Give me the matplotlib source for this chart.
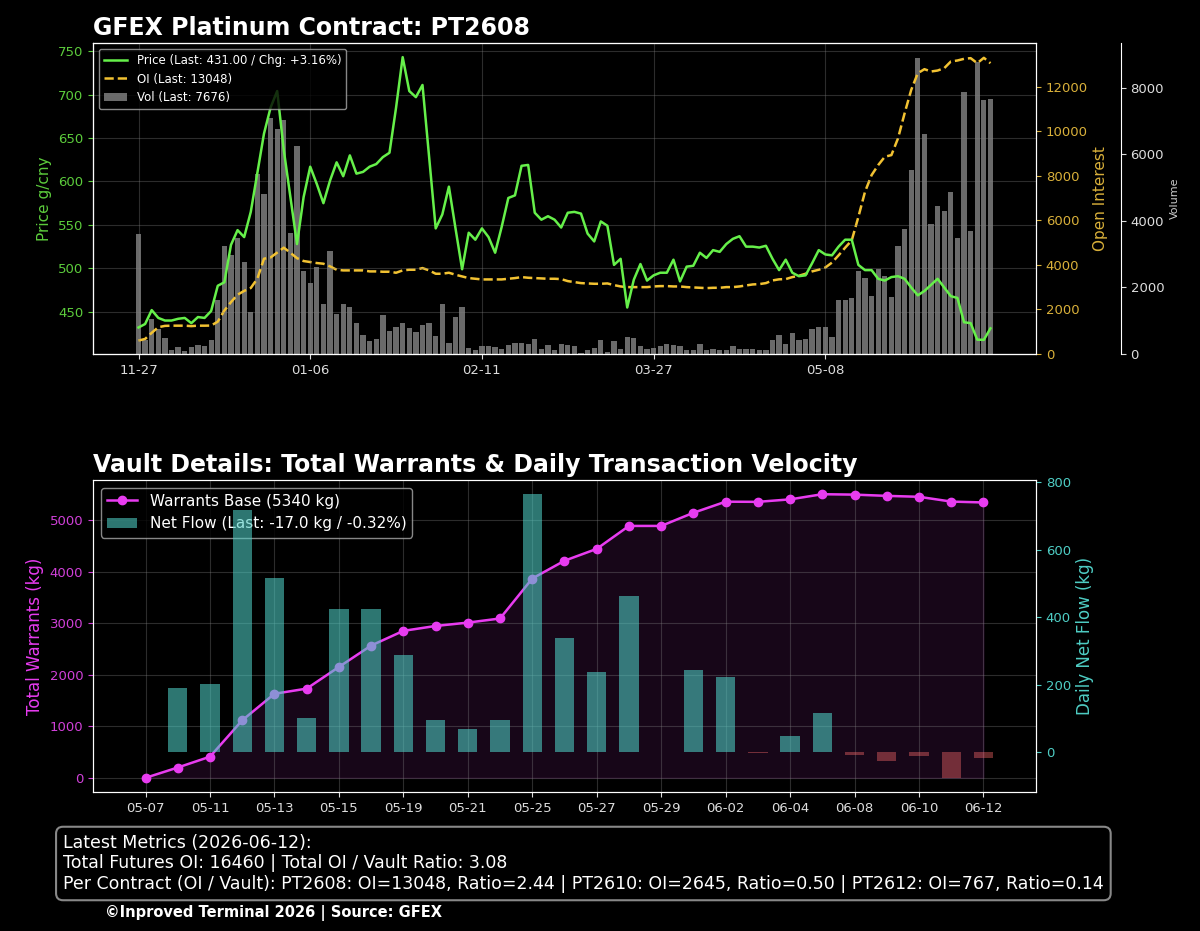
import numpy as np
import pandas as pd
import matplotlib
matplotlib.use("Agg")
import matplotlib.pyplot as plt
from matplotlib.colors import to_rgba
from matplotlib.patches import Patch

plt.style.use('dark_background')

# --- PT2608 daily series (trading days 2025-11-27 .. 2026-06-12) ---
holidays = ['2026-01-01', '2026-01-02', '2026-02-16', '2026-02-17', '2026-02-18',
            '2026-02-19', '2026-02-20', '2026-02-23', '2026-04-06', '2026-05-01',
            '2026-05-04', '2026-05-05']
trade_dates = pd.bdate_range('2025-11-27', '2026-06-12', freq='C', holidays=holidays)

price = [432, 436, 452, 443, 440, 440, 442, 443, 437, 444,
         443, 451, 480, 484, 527, 544, 536, 565, 610, 655,
         685, 704, 636, 582, 528, 582, 617, 597, 575, 601,
         622, 606, 630, 609, 611, 617, 620, 628, 633, 685,
         743, 704, 697, 711, 628, 546, 562, 594, 546, 499,
         541, 533, 546, 536, 518, 548, 581, 584, 618, 619,
         564, 556, 560, 556, 547, 564, 565, 563, 540, 531,
         554, 549, 504, 511, 455, 487, 505, 486, 492, 495,
         495, 510, 485, 502, 503, 518, 512, 521, 519, 528,
         534, 537, 525, 525, 524, 526, 511, 498, 510, 495,
         491, 492, 506, 521, 516, 515, 525, 533, 533, 504,
         498, 498, 488, 486, 490, 491, 488, 478, 469, 474,
         481, 488, 478, 468, 466, 438, 437, 418, 417.8, 431.0]

oi = [600, 675, 950, 1200, 1260, 1270, 1270, 1270, 1250, 1270,
      1270, 1275, 1450, 1950, 2325, 2660, 2830, 2960, 3380, 4275,
      4330, 4550, 4770, 4540, 4300, 4170, 4125, 4080, 4050, 3930,
      3780, 3750, 3750, 3750, 3750, 3705, 3705, 3690, 3690, 3645,
      3750, 3780, 3780, 3855, 3750, 3600, 3600, 3645, 3555, 3480,
      3405, 3375, 3345, 3345, 3345, 3345, 3375, 3405, 3450, 3420,
      3405, 3390, 3375, 3375, 3360, 3270, 3225, 3180, 3165, 3150,
      3150, 3165, 3090, 3030, 3000, 3000, 3000, 3000, 3030, 3045,
      3045, 3030, 3030, 3000, 2985, 2970, 2955, 2970, 2970, 3000,
      3000, 3030, 3075, 3120, 3135, 3180, 3300, 3350, 3360, 3450,
      3510, 3600, 3705, 3780, 3880, 4100, 4425, 4770, 5100, 6150,
      7275, 8025, 8475, 8850, 8925, 9675, 10800, 11850, 12600, 12780,
      12675, 12720, 12825, 13125, 13170, 13245, 13275, 13050, 13290, 13048]

vol = [3615, 405, 1060, 760, 480, 125, 200, 85, 205, 275,
       235, 425, 1630, 3235, 2980, 3490, 2765, 1260, 5420, 4800,
       7100, 6770, 7030, 3635, 6260, 2490, 2130, 2610, 1490, 3095,
       1190, 1510, 1410, 920, 570, 385, 455, 1185, 705, 825,
       925, 785, 670, 885, 920, 530, 1505, 335, 1105, 1410,
       185, 125, 235, 235, 200, 155, 275, 335, 335, 305,
       455, 155, 275, 125, 305, 255, 225, 25, 125, 185,
       405, 55, 375, 155, 525, 485, 225, 155, 185, 225,
       305, 275, 225, 125, 125, 305, 125, 155, 105, 125,
       225, 155, 155, 155, 125, 125, 405, 565, 285, 625,
       415, 455, 740, 815, 815, 520, 1620, 1625, 1685, 2490,
       2285, 1755, 2560, 2355, 1725, 3260, 3760, 5535, 8905, 6600,
       3910, 4460, 4290, 4865, 3490, 7875, 3690, 8775, 7640, 7676]

# --- Vault warrants (GFEX platinum) ---
vault_dates = pd.bdate_range('2026-05-07', '2026-06-12')
warrants = [0, 200, 410, 1115, 1630, 1730, 2150, 2565, 2850, 2945,
            3010, 3090, 3865, 4210, 4440, 4885, 4885, 5140, 5355, 5352,
            5400, 5500, 5492, 5468, 5450, 5357, 5340]
net_flow = [0, 190, 202, 718, 517, 101, 426, 426, 288, 94,
            68, 94, 765, 339, 238, 462, 0, 245, 223, -3,
            48, 116, -8, -25, -11, -76, -17]

# open interest per listed contract on the last day
contracts = ['PT2608', 'PT2610', 'PT2612']
contract_oi = [13048, 2645, 767]

GREEN = '#66f04a'
GOLD = '#f2c232'
MAGENTA = '#e83cf0'
TEAL = '#4ecdc4'
RED = '#ff6b6b'

fig = plt.figure(figsize=(12, 9.31), dpi=100, facecolor='black')

# ---------------------------------------------------------
# 1. Price / OI / Volume
# ---------------------------------------------------------
ax_p = fig.add_axes([0.0775, 0.6198, 0.7858, 0.334])
ax_vol = ax_p.twinx()
ax_oi = ax_p.twinx()
ax_vol.spines['right'].set_position(('axes', 1.09))

x = np.arange(len(price))

bars_v = ax_vol.bar(x, vol, width=0.8, color='#8e8e8e', alpha=0.75)
ax_vol.set_ylim(0, max(vol) * 1.05)
ax_vol.set_ylabel('Volume', fontsize=8, color='#cccccc')
ax_vol.tick_params(axis='y', labelsize=9.5, colors='#dddddd')

line_oi, = ax_oi.plot(x, oi, color=GOLD, ls='--', lw=1.8)
ax_oi.set_ylim(0, max(oi) * 1.05)
ax_oi.set_ylabel('Open Interest', fontsize=11, color='#d9b03a')
ax_oi.tick_params(axis='y', labelsize=9.5, colors='#d9b03a')

line_p, = ax_p.plot(x, price, color=GREEN, lw=1.8)
ax_p.set_ylabel('Price g/cny', fontsize=11, color='#5ccc3c')
ax_p.tick_params(axis='y', labelsize=9.5, colors='#5ccc3c')
ax_p.tick_params(axis='x', labelsize=9.5, colors='#dddddd')
ax_p.grid(True, color='gray', alpha=0.35, lw=0.8)

tick_idx = x[::26]
ax_p.set_xticks(tick_idx)
ax_p.set_xticklabels([trade_dates[i].strftime('%m-%d') for i in tick_idx])

# lines above the volume bars
ax_vol.set_zorder(1)
ax_oi.set_zorder(2)
ax_p.set_zorder(3)
ax_p.patch.set_visible(False)
ax_oi.patch.set_visible(False)
ax_vol.patch.set_facecolor('black')

chg = (price[-1] / price[-2] - 1) * 100
ax_p.legend([line_p, line_oi, bars_v],
            [f'Price (Last: {price[-1]:.2f} / Chg: {chg:+.2f}%)',
             f'OI (Last: {oi[-1]})', f'Vol (Last: {vol[-1]})'],
            loc='upper left', fontsize=8.5, facecolor='black',
            edgecolor='#aaaaaa', framealpha=0.8)
ax_p.set_title('GFEX Platinum Contract: PT2608', loc='left', fontsize=17,
               fontweight='bold', color='white')

# ---------------------------------------------------------
# 2. Vault warrants & daily net flow
# ---------------------------------------------------------
ax_w = fig.add_axes([0.0775, 0.1493, 0.7858, 0.3351])
xv = np.arange(len(warrants))

line_w, = ax_w.plot(xv, warrants, color=MAGENTA, marker='o', ms=6, lw=1.8)
ax_w.fill_between(xv, warrants, color=MAGENTA, alpha=0.1)
ax_w.set_ylabel('Total Warrants (kg)', fontsize=12, color=MAGENTA)
ax_w.tick_params(axis='y', labelsize=9.5, colors='#d040d8')
ax_w.tick_params(axis='x', labelsize=9.5, colors='#dddddd')
ax_w.grid(True, color='gray', alpha=0.35, lw=0.8)

ax_f = ax_w.twinx()
flow_colors = [to_rgba(TEAL, 0.58) if f >= 0 else to_rgba(RED, 0.4) for f in net_flow]
ax_f.bar(xv, net_flow, width=0.6, color=flow_colors)
ax_f.set_ylabel('Daily Net Flow (kg)', fontsize=12, color=TEAL)
ax_f.tick_params(axis='y', labelsize=9.5, colors=TEAL)

ax_w.set_xticks(xv[::2])
ax_w.set_xticklabels([vault_dates[i].strftime('%m-%d') for i in xv[::2]])

flow_pct = net_flow[-1] / warrants[-2] * 100
ax_w.legend([line_w, Patch(facecolor=to_rgba(TEAL, 0.58))],
            [f'Warrants Base ({warrants[-1]} kg)',
             f'Net Flow (Last: {net_flow[-1]:.1f} kg / {flow_pct:.2f}%)'],
            loc='upper left', fontsize=11, facecolor='black',
            edgecolor='#aaaaaa', framealpha=0.8)
ax_w.set_title('Vault Details: Total Warrants & Daily Transaction Velocity',
               loc='left', fontsize=17, fontweight='bold', color='white')

# ---------------------------------------------------------
# 3. Summary box + footer
# ---------------------------------------------------------
vault = warrants[-1]
total_oi = sum(contract_oi)
per_contract = ' | '.join(f'{c}: OI={o}, Ratio={o / vault:.2f}'
                          for c, o in zip(contracts, contract_oi))
metrics = (f'Latest Metrics ({vault_dates[-1].strftime("%Y-%m-%d")}):\n'
           f'Total Futures OI: {total_oi} | Total OI / Vault Ratio: {total_oi / vault:.2f}\n'
           f'Per Contract (OI / Vault): {per_contract}')
fig.text(0.0525, 0.0405, metrics, fontsize=12.5, color='white', ha='left', va='bottom',
         bbox=dict(boxstyle='round,pad=0.4', facecolor='black', edgecolor='#888888', lw=1.5))
fig.text(0.0875, 0.0193, '©Inproved Terminal 2026 | Source: GFEX', fontsize=10.5,
         fontweight='bold', color='white', va='center')

fig.savefig('out.png', dpi=100, facecolor='black')
